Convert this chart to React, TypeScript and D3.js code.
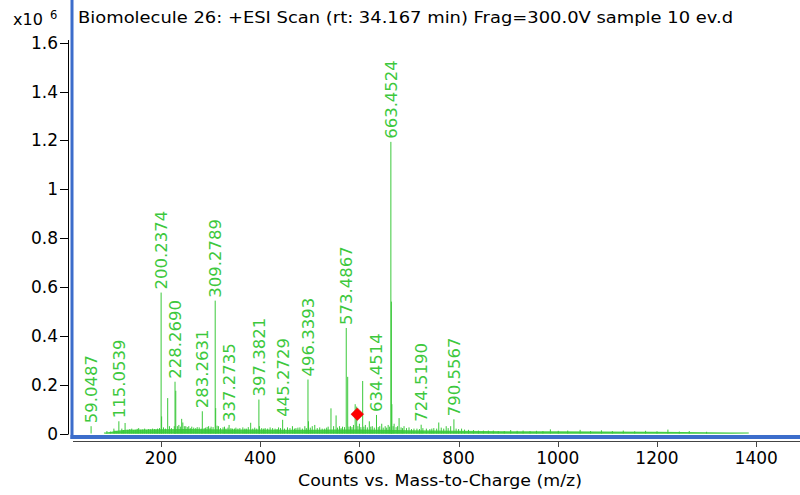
import React from "react";
import * as d3 from "d3";

const W = 800;
const H = 495;

// Annotated peaks: m/z, intensity (x10^6) and printed label
const peakMz = [59.0487, 115.0539, 200.2374, 228.269, 283.2631, 309.2789, 337.2735, 397.3821, 445.2729, 496.3393, 573.4867, 634.4514, 663.4524, 724.519, 790.5567];
const peakInt = [0.03, 0.05, 0.577, 0.212, 0.091, 0.544, 0.035, 0.139, 0.056, 0.221, 0.432, 0.076, 1.194, 0.036, 0.058];
const peakLabels = ["59.0487", "115.0539", "200.2374", "228.2690", "283.2631", "309.2789", "337.2735", "397.3821", "445.2729", "496.3393", "573.4867", "634.4514", "663.4524", "724.5190", "790.5567"];

// Unlabelled centroid sticks
const minorMz = [91, 98, 105, 107, 111, 121, 124, 127.6, 133, 137, 141, 145, 149, 152, 155, 159, 163, 167, 171, 175, 179, 183, 187, 190, 193, 197, 201.24, 205, 209, 213.5, 217, 221, 226.8, 229.8, 233, 236, 239, 241.7, 244, 247, 250, 253, 256, 259, 262, 266, 270, 273, 277, 281, 287, 290, 293, 296, 299, 301, 305, 310.28, 313, 316, 320, 325, 328, 331, 335, 341, 344, 348, 351, 355, 359, 365, 369, 372, 376, 380.8, 385, 389, 393, 398.38, 403, 407, 410, 415, 420, 425, 430, 434, 437, 441, 449, 455, 460, 465, 469, 472, 476, 480, 485, 490, 493, 497.34, 501, 505, 510, 515, 520, 525, 530, 534, 537, 542.7, 548, 553, 556, 560, 563, 566, 570, 576.4, 579, 582, 585, 588, 591.5, 594.5, 597, 600, 603, 606.6, 609, 612, 616, 620, 623, 626, 630, 638, 641, 645, 648, 652, 655, 658, 661, 664.45, 665.46, 668, 670, 674, 677, 680, 684, 687, 690, 695, 700, 705, 710, 716, 721, 728, 735, 742, 746, 750, 755.8, 760, 765, 770, 775, 779, 784, 795, 800, 806, 812, 820, 830, 840, 850, 860, 870, 880, 892, 905, 918, 930, 944, 957, 970, 985, 1001, 1020, 1045, 1066, 1088, 1110, 1132, 1155, 1177, 1200, 1222, 1245, 1265, 1300];
const minorInt = [0.01, 0.008, 0.02, 0.012, 0.01, 0.02, 0.014, 0.043, 0.015, 0.018, 0.02, 0.014, 0.015, 0.019, 0.022, 0.015, 0.016, 0.02, 0.014, 0.018, 0.017, 0.02, 0.018, 0.016, 0.02, 0.022, 0.07, 0.025, 0.02, 0.145, 0.03, 0.022, 0.03, 0.175, 0.03, 0.035, 0.028, 0.06, 0.045, 0.03, 0.03, 0.026, 0.03, 0.022, 0.028, 0.024, 0.022, 0.026, 0.025, 0.02, 0.022, 0.024, 0.027, 0.03, 0.022, 0.028, 0.026, 0.104, 0.032, 0.03, 0.022, 0.025, 0.028, 0.02, 0.024, 0.022, 0.02, 0.02, 0.024, 0.02, 0.022, 0.025, 0.02, 0.02, 0.026, 0.044, 0.02, 0.024, 0.02, 0.03, 0.022, 0.02, 0.022, 0.02, 0.025, 0.022, 0.02, 0.018, 0.025, 0.022, 0.02, 0.025, 0.022, 0.03, 0.02, 0.022, 0.024, 0.025, 0.02, 0.03, 0.022, 0.05, 0.024, 0.03, 0.035, 0.022, 0.025, 0.02, 0.02, 0.024, 0.028, 0.103, 0.03, 0.074, 0.024, 0.03, 0.022, 0.028, 0.026, 0.232, 0.028, 0.03, 0.026, 0.035, 0.12, 0.11, 0.03, 0.04, 0.026, 0.215, 0.028, 0.035, 0.025, 0.05, 0.028, 0.03, 0.024, 0.026, 0.03, 0.04, 0.024, 0.03, 0.024, 0.035, 0.028, 0.54, 0.12, 0.03, 0.04, 0.026, 0.03, 0.063, 0.025, 0.022, 0.03, 0.022, 0.025, 0.018, 0.02, 0.02, 0.018, 0.022, 0.02, 0.018, 0.02, 0.022, 0.02, 0.045, 0.024, 0.02, 0.03, 0.022, 0.03, 0.02, 0.018, 0.02, 0.016, 0.015, 0.014, 0.012, 0.012, 0.012, 0.012, 0.01, 0.01, 0.014, 0.011, 0.012, 0.01, 0.011, 0.01, 0.017, 0.011, 0.012, 0.015, 0.01, 0.013, 0.01, 0.012, 0.009, 0.011, 0.009, 0.016, 0.008, 0.01, 0.007, 0.006, 0.004];

// Chemical-noise baseline level
const baseMz = [85, 95, 110, 130, 160, 200, 250, 300, 350, 400, 450, 500, 550, 600, 650, 700, 750, 800, 900, 1000, 1100, 1200, 1250, 1300, 1350, 1385];
const baseInt = [0, 0.005, 0.011, 0.015, 0.016, 0.017, 0.018, 0.017, 0.016, 0.016, 0.015, 0.015, 0.016, 0.016, 0.015, 0.013, 0.012, 0.011, 0.009, 0.009, 0.008, 0.007, 0.006, 0.004, 0.002, 0];

// Precursor marker
const precursorMz = 595.8;
const precursorInt = 0.079;

const xTicks = [200, 400, 600, 800, 1000, 1200, 1400];
const yTicks = [0, 0.2, 0.4, 0.6, 0.8, 1, 1.2, 1.4, 1.6];
const yTickLabels = ["0", "0.2", "0.4", "0.6", "0.8", "1", "1.2", "1.4", "1.6"];

const FONT = "DejaVu Sans, Verdana, sans-serif";
const GREEN = "#3ac83a";
const LABEL_GREEN = "#3dc83d";
const BLUE = "#3c6dcb";

export default function App() {
  const x = d3.scaleLinear().domain([0, 1500]).range([61.8, 805.8]);
  const y = d3.scaleLinear().domain([0, 1.6]).range([433.5, 42.7]);

  const baseData = baseMz.map((m, i) => [m, baseInt[i]] as [number, number]);
  const area = d3
    .area<[number, number]>()
    .x((d) => x(d[0]))
    .y0(y(0))
    .y1((d) => y(d[1]));

  const diamond = d3.symbol().type(d3.symbolSquare).size(80)();

  return (
    <svg width={W} height={H} style={{ display: "block", position: "absolute", left: 0, top: 0, background: "#fff" }}>
      <defs>
        <clipPath id="plot">
          <rect x={74} y={0} width={726} height={434.5} />
        </clipPath>
      </defs>

      {/* exponent note */}
      <text x={13} y={25} fontFamily={FONT} fontSize={16} fill="#000">x10</text>
      <text x={50} y={19} fontFamily={FONT} fontSize={11.5} fill="#000">6</text>

      {/* title */}
      <text x={78} y={23} fontFamily={FONT} fontSize={15} fill="#000" textLength={655} lengthAdjust="spacingAndGlyphs">
        Biomolecule 26: +ESI Scan (rt: 34.167 min) Frag=300.0V sample 10 ev.d
      </text>

      {/* y axis */}
      <line x1={68.5} x2={68.5} y1={40} y2={434} stroke="#000" strokeWidth={1} />
      {yTicks.map((t, i) => (
        <g key={"yt" + i}>
          <line x1={60} x2={68.5} y1={Math.round(y(t)) + 0.5} y2={Math.round(y(t)) + 0.5} stroke="#000" strokeWidth={1} />
          <text x={58} y={y(t) + 6} textAnchor="end" fontFamily={FONT} fontSize={17} fill="#000">
            {yTickLabels[i]}
          </text>
        </g>
      ))}

      {/* spectrum */}
      <g clipPath="url(#plot)">
        <path d={area(baseData) || ""} fill="#4fd24f" />
        <line x1={x(85)} x2={x(1385)} y1={y(0) - 0.5} y2={y(0) - 0.5} stroke={GREEN} strokeWidth={1} />
        {minorMz.map((m, i) => (
          <line key={"m" + i} x1={x(m)} x2={x(m)} y1={y(0)} y2={y(minorInt[i])} stroke={GREEN} strokeWidth={1} />
        ))}
        {peakMz.map((m, i) => (
          <line key={"p" + i} x1={x(m)} x2={x(m)} y1={y(0)} y2={y(peakInt[i])} stroke={GREEN} strokeWidth={1} />
        ))}
      </g>

      {/* peak labels */}
      {peakMz.map((m, i) => (
        <text
          key={"l" + i}
          transform={`translate(${x(m)},${y(peakInt[i]) - 3}) rotate(-90)`}
          dy="0.36em"
          fontFamily={FONT}
          fontSize={16.5}
          fill={LABEL_GREEN}
        >
          {peakLabels[i]}
        </text>
      ))}

      {/* precursor marker */}
      <path d={diamond || ""} transform={`translate(${x(precursorMz)},${y(precursorInt)}) rotate(45)`} fill="#ff0000" stroke="#d00000" strokeWidth={0.5} />

      {/* plot frame */}
      <rect x={70.5} y={0} width={3} height={439} fill={BLUE} />
      <rect x={70.5} y={435} width={729.5} height={4} fill={BLUE} />

      {/* x axis */}
      <line x1={73} x2={800} y1={441.5} y2={441.5} stroke="#444" strokeWidth={1} />
      {xTicks.map((t) => (
        <g key={"xt" + t}>
          <line x1={Math.round(x(t)) + 0.5} x2={Math.round(x(t)) + 0.5} y1={441.5} y2={447} stroke="#444" strokeWidth={1} />
          <text x={x(t)} y={464} textAnchor="middle" fontFamily={FONT} fontSize={17} fill="#000">
            {t}
          </text>
        </g>
      ))}
      <text x={298} y={486} fontFamily={FONT} fontSize={15.5} fill="#000" textLength={284} lengthAdjust="spacingAndGlyphs">
        Counts vs. Mass-to-Charge (m/z)
      </text>
    </svg>
  );
}
